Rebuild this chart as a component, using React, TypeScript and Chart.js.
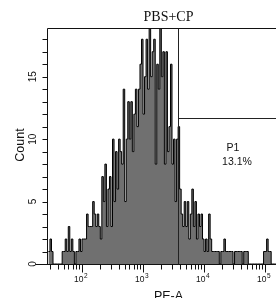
import { useEffect, useRef } from 'react';
import { Chart, registerables } from 'chart.js';

Chart.register(...registerables);

// ---- data ----
const TITLE = 'PBS+CP';
const X_LABEL = 'PE-A';
const Y_LABEL = 'Count';
const GATE_NAME = 'P1';
const GATE_PCT = '13.1%';

// histogram bins (log10 left edge of first bin, bin width in log10 units)
const BIN_START_LOG = 1.45;
const BIN_WIDTH_LOG = 0.025;
const COUNTS = [
  1, 2, 1, 0, 0, 0, 0, 0, 0, 1,
  1, 2, 1, 3, 1, 2, 1, 0, 1, 1,
  2, 1, 2, 2, 2, 4, 3, 3, 3, 5,
  4, 3, 4, 3, 2, 7, 5, 8, 3, 6,
  7, 3, 10, 5, 9, 6, 10, 9, 8, 14,
  5, 10, 13, 10, 13, 9, 12, 14, 11, 14,
  16, 18, 12, 15, 18, 14, 20, 15, 17, 18,
  8, 16, 14, 20, 15, 17, 8, 17, 9, 11,
  16, 8, 10, 5, 10, 11, 6, 4, 3, 5,
  3, 5, 2, 4, 6, 3, 5, 2, 4, 3,
  4, 2, 1, 2, 1, 4, 2, 1, 1, 1,
  1, 1, 0, 1, 1, 2, 1, 1, 1, 1,
  1, 0, 1, 1, 1, 1, 1, 0, 1, 1,
  1, 0, 0, 0, 0, 0, 0, 0, 0, 0,
  0, 1, 1, 2, 1, 1, 0, 0, 0, 0,
];

const X_MIN = 26.7;
const X_MAX = 151000;
const Y_MIN = 0;
const Y_MAX = 18.9;
const Y_TICK_LABELS = [0, 5, 10, 15];
const X_LABEL_DECADES = [2, 3, 4, 5];

const GATE_START = 3750;
const GATE_LEVEL = 11.7;

function buildPoints() {
  const pts = COUNTS.map((c, i) => ({ x: Math.pow(10, BIN_START_LOG + i * BIN_WIDTH_LOG), y: c }));
  pts.push({ x: Math.pow(10, BIN_START_LOG + COUNTS.length * BIN_WIDTH_LOG), y: COUNTS[COUNTS.length - 1] });
  return pts;
}

const overlay = {
  id: 'facsOverlay',
  afterDatasetsDraw(chart: any) {
    const ctx = chart.ctx as CanvasRenderingContext2D;
    const xs = chart.scales.x;
    const ys = chart.scales.y;
    const { left, right, top, bottom } = chart.chartArea;
    const W = chart.width;
    const H = chart.height;
    const line = (x1: number, y1: number, x2: number, y2: number) => {
      ctx.beginPath();
      ctx.moveTo(x1, y1);
      ctx.lineTo(x2, y2);
      ctx.stroke();
    };
    ctx.save();
    ctx.strokeStyle = '#111';
    ctx.lineWidth = 1;

    const L = Math.round(left) + 0.5;
    const T = Math.round(top) + 0.5;
    const y0 = Math.round(ys.getPixelForValue(0)) + 0.5;

    // frame
    line(L, T, right, T);
    line(L, T, L, y0);
    line(L - 12, y0, right, y0);

    // y ticks
    for (let v = 1; v <= Math.floor(Y_MAX); v++) {
      const y = Math.round(ys.getPixelForValue(v)) + 0.5;
      line(L - 5, y, L, y);
    }
    ctx.fillStyle = '#111';
    ctx.font = '10px "Liberation Sans", Arial, sans-serif';
    ctx.textAlign = 'center';
    ctx.textBaseline = 'middle';
    for (const v of Y_TICK_LABELS) {
      const y = ys.getPixelForValue(v);
      ctx.save();
      ctx.translate(L - 14, y);
      ctx.rotate(-Math.PI / 2);
      ctx.fillText(String(v), 0, 0);
      ctx.restore();
    }

    // x ticks (log)
    for (let d = 1; d <= 5; d++) {
      for (let m = 1; m <= 9; m++) {
        const v = m * Math.pow(10, d);
        if (v < X_MIN || v > X_MAX) continue;
        const x = Math.round(xs.getPixelForValue(v)) + 0.5;
        line(x, y0, x, y0 + (m === 1 ? 8 : 5));
      }
    }
    const sup: Record<string, string> = { '1': '1', '2': '2', '3': '3', '4': '4', '5': '5' };
    for (const d of X_LABEL_DECADES) {
      const x = xs.getPixelForValue(Math.pow(10, d));
      ctx.font = '8.5px "Liberation Sans", Arial, sans-serif';
      ctx.textAlign = 'right';
      ctx.textBaseline = 'alphabetic';
      ctx.fillText('10', x + 1.5, y0 + 17);
      ctx.font = '6.5px "Liberation Sans", Arial, sans-serif';
      ctx.textAlign = 'left';
      ctx.fillText(sup[String(d)], x + 2, y0 + 13);
    }

    // gate
    const gx = Math.round(xs.getPixelForValue(GATE_START)) + 0.5;
    const gy = Math.round(ys.getPixelForValue(GATE_LEVEL)) + 0.5;
    ctx.strokeStyle = '#222';
    line(gx, T, gx, y0);
    line(gx, gy, right, gy);

    ctx.fillStyle = '#111';
    ctx.textAlign = 'center';
    ctx.textBaseline = 'middle';
    ctx.font = '10.5px "Liberation Sans", Arial, sans-serif';
    ctx.fillText(GATE_NAME, 233, 148);
    ctx.fillText(GATE_PCT, 237, 162);

    // title
    ctx.font = '14px "Liberation Serif", "Times New Roman", serif';
    ctx.fillText(TITLE, 168.5, 17);

    // axis titles
    ctx.font = '12.5px "Liberation Sans", Arial, sans-serif';
    ctx.textBaseline = 'alphabetic';
    ctx.fillText(X_LABEL, 168.5, H + 2);
    ctx.save();
    ctx.translate(24, 145);
    ctx.rotate(-Math.PI / 2);
    ctx.fillText(Y_LABEL, 0, 0);
    ctx.restore();

    void W; void bottom;
    ctx.restore();
  },
};

export default function App() {
  const ref = useRef<HTMLCanvasElement | null>(null);
  useEffect(() => {
    if (!ref.current) return;
    const chart = new Chart(ref.current, {
      type: 'line',
      data: {
        datasets: [
          {
            data: buildPoints(),
            stepped: 'before',
            fill: 'origin',
            backgroundColor: '#707070',
            borderColor: '#000',
            borderWidth: 1,
            pointRadius: 0,
            tension: 0,
          } as any,
        ],
      },
      options: {
        responsive: false,
        animation: false,
        devicePixelRatio: 1,
        layout: { padding: { left: 47, top: 28, right: 0, bottom: 34 } },
        scales: {
          x: { type: 'logarithmic', min: X_MIN, max: X_MAX, display: false },
          y: { type: 'linear', min: Y_MIN, max: Y_MAX, display: false },
        },
        plugins: { legend: { display: false }, tooltip: { enabled: false }, title: { display: false } },
      },
      plugins: [overlay],
    });
    return () => chart.destroy();
  }, []);
  return (
    <div style={{ position: 'fixed', left: 0, top: 0, width: 276, height: 298, background: '#fff' }}>
      <canvas ref={ref} width={276} height={298} style={{ display: 'block', width: 276, height: 298 }} />
    </div>
  );
}
